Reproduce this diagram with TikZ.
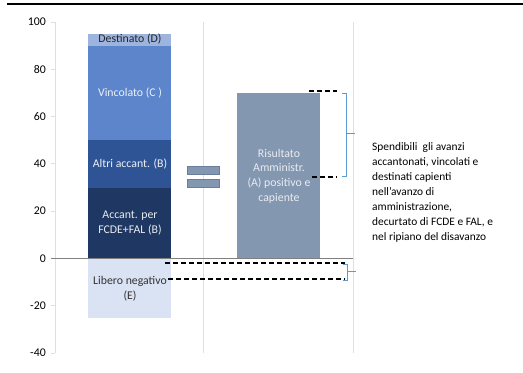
\documentclass[tikz,border=0pt]{standalone}
\usepackage{fontspec}
\setmainfont{Carlito}
\definecolor{colD}{HTML}{9DB4DF}
\definecolor{colC}{HTML}{5C85CB}
\definecolor{colB}{HTML}{2E5496}
\definecolor{colFC}{HTML}{1F3763}
\definecolor{colE}{HTML}{DAE3F3}
\definecolor{colA}{HTML}{8497B0}
\definecolor{colAline}{HTML}{6A7E9C}
\definecolor{braceblue}{HTML}{5B9BD5}
\begin{document}
\begin{tikzpicture}[x = 1pt, y = 2.365pt,
		lbl/.style = {font = \fontsize{11.8}{14.6}\selectfont, align = center, inner sep = 0},
		dashline/.style = {dash pattern = on 5pt off 3pt, line width = 1.2pt},
		bracket/.style = {draw = braceblue, line width = 0.8pt},
		gridline/.style = {draw = gray!25, line width = 0.8pt}]
	\useasboundingbox (0, -48) rectangle (523, 109.3);
	% top rule
	\draw[line width = 1.5pt] (7, 107.6) -- (523, 107.6);
	% grid and axes
	\draw[gridline] (55, 100) -- (55, -40);
	\draw[gridline] (203, 100) -- (203, -40);
	\draw[gridline] (353, 100) -- (353, -40);
	\foreach \v in {-40, -20, ..., 100} {
		\draw[gridline] (51, \v) -- (55, \v);
		\node[lbl, anchor = east] (tick\v) at (46, \v) {\v};
	}
	% the stacked bar
	\fill[colFC] (88, 0)  rectangle (171, 30);
	\fill[colB]  (88, 30) rectangle (171, 50);
	\fill[colC]  (88, 50) rectangle (171, 90);
	\fill[colD]  (88, 90) rectangle (171, 95);
	\fill[colE]  (88, 0)  rectangle (171, -25);
	% the result bar
	\fill[colA] (237, 0) rectangle (320, 70);
	% equals sign
	\draw[fill = colA, draw = colAline] (186.7, 39.2) rectangle (219, 35.6);
	\draw[fill = colA, draw = colAline] (186.7, 33.7) rectangle (219, 30.1);
	% zero line
	\draw[gray, line width = 1.2pt] (51, 0) -- (353, 0);
	% labels of the bars
	\node[lbl, text = black!85]    (dest) at (130, 92.8) {Destinato (D)};
	\node[lbl, text = white!88!colC] (vinc) at (130, 70)   {Vincolato (C )};
	\node[lbl, text = white!92!colB] (altri) at (130, 40)  {Altri accant. (B)};
	\node[lbl, text = white!90!colFC] (fcde) at (130, 15)  {Accant. per\\FCDE+FAL (B)};
	\node[lbl, text = black!80]    (lib) at (130, -12.7)   {Libero negativo\\(E)};
	\node[lbl, text = white!82!colA] (ris) at (279, 34.9)  {Risultato\\Amministr.\\(A) positivo e\\capiente};
	% dashed guides
	\coordinate (topL) at (309, 70.8);
	\coordinate (topR) at (337, 70.8);
	\coordinate (midL) at (312, 34.5);
	\coordinate (midR) at (337, 34.5);
	\coordinate (negL) at (165, -1.9);
	\coordinate (negR) at (345, -1.9);
	\coordinate (botL) at (168, -8.7);
	\coordinate (botR) at (345, -8.7);
	\draw[dashline] (topL) -- (topR);
	\draw[dashline] (midL) -- (midR);
	\draw[dashline] (negL) -- (negR);
	\draw[dashline] (botL) -- (botR);
	% brackets
	\draw[bracket] (342, 69.9) -- (346, 69.9) -- (346, 34.9) -- (342, 34.9);
	\draw[bracket] (346, 53) -- (355, 53);
	\draw[bracket] (343, -2.5) -- (347, -2.5) -- (347, -9.1) -- (343, -9.1);
	\draw[bracket] (347, -5.6) -- (356, -5.6);
	% the note
	\node[lbl, align = left, anchor = west, font = \fontsize{11.4}{15}\selectfont] (note) at (372, 28.1)
		{Spendibili\ \ gli avanzi\\accantonati, vincolati e\\destinati capienti\\nell’avanzo di\\amministrazione,\\decurtato di FCDE e FAL, e\\nel ripiano del disavanzo};
\end{tikzpicture}
\end{document}
